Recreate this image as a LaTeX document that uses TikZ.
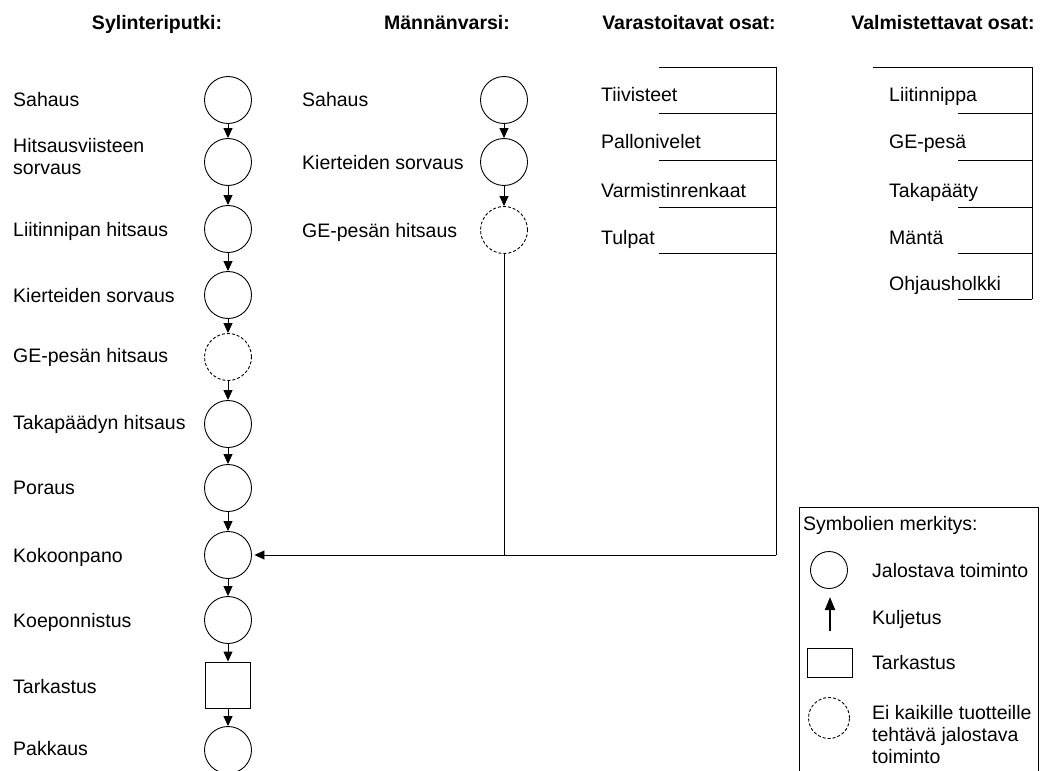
\documentclass[tikz,border=0pt]{standalone}
\usepackage{fontspec}
\setmainfont{Liberation Sans}
\usetikzlibrary{arrows.meta}
\begin{document}
\begin{tikzpicture}[x=1pt,y=-1pt,
  txt/.style={inner sep=0pt, font=\fontsize{19.5}{22}\selectfont},
  lbl/.style={txt, anchor=base west},
  hdr/.style={txt, anchor=base, font=\fontsize{19.5}{22}\selectfont\bfseries},
  op/.style={circle, draw, minimum size=47pt, inner sep=0pt, line width=0.9pt},
  opt/.style={op, dash pattern=on 3pt off 2pt},
  insp/.style={draw, minimum width=45pt, minimum height=46pt, inner sep=0pt, line width=0.9pt},
  flow/.style={-{Triangle[length=10pt,width=9pt]}, line width=0.9pt},
  boldflow/.style={-{Triangle[length=13pt,width=10pt]}, line width=2pt},
  rule/.style={line width=0.9pt}]
\useasboundingbox (0,0) rectangle (1040,770);
\clip (0,0) rectangle (1040,770);

% column headings
\node[hdr] (h1) at (157,30) {Sylinteriputki:};
\node[hdr] (h2) at (447,30) {Männänvarsi:};
\node[hdr] (h3) at (689,30) {Varastoitavat osat:};
\node[hdr] (h4) at (943,30) {Valmistettavat osat:};

% cylinder tube process chain
\node[op]   (s1)  at (228,100) {};
\node[op]   (s2)  at (228,162) {};
\node[op]   (s3)  at (228,229) {};
\node[op]   (s4)  at (228,295) {};
\node[opt]  (s5)  at (228,357) {};
\node[op]   (s6)  at (228,424) {};
\node[op]   (s7)  at (228,488) {};
\node[op]   (s8)  at (228,555) {};
\node[op]   (s9)  at (228,620) {};
\node[insp] (s10) at (228,685) {};
\node[op]   (s11) at (228,750) {};

\foreach \a/\b in {s1/s2,s2/s3,s3/s4,s4/s5,s5/s6,s6/s7,s7/s8,s8/s9,s9/s10,s10/s11}
  \draw[flow] (\a) -- (\b);

\node[lbl] (l1)  at (13,107) {Sahaus};
\node[lbl, align=left, anchor=north west] (l2) at (13,138) {Hitsausviisteen\\sorvaus};
\node[lbl] (l3)  at (13,236) {Liitinnipan hitsaus};
\node[lbl] (l4)  at (13,302) {Kierteiden sorvaus};
\node[lbl] (l5)  at (13,362) {GE-pesän hitsaus};
\node[lbl] (l6)  at (13,429) {Takapäädyn hitsaus};
\node[lbl] (l7)  at (13,494) {Poraus};
\node[lbl] (l8)  at (13,562) {Kokoonpano};
\node[lbl] (l9)  at (13,627) {Koeponnistus};
\node[lbl] (l10) at (13,693) {Tarkastus};
\node[lbl] (l11) at (13,755) {Pakkaus};

% piston rod process chain
\node[op]  (m1) at (504,100) {};
\node[op]  (m2) at (504,162) {};
\node[opt] (m3) at (504,230) {};
\draw[flow] (m1) -- (m2);
\draw[flow] (m2) -- (m3);

\node[lbl] (n1) at (302,107) {Sahaus};
\node[lbl] (n2) at (302,169) {Kierteiden sorvaus};
\node[lbl] (n3) at (302,237) {GE-pesän hitsaus};

% stocked parts list
\node[lbl] (v1) at (601,102) {Tiivisteet};
\node[lbl] (v2) at (601,149) {Pallonivelet};
\node[lbl] (v3) at (601,197) {Varmistinrenkaat};
\node[lbl] (v4) at (601,244) {Tulpat};
\draw[rule] (659,67) -- (776,67);
\foreach \y in {113,160,207,253}
  \draw[rule] (659,\y) -- (776,\y);

% manufactured parts list
\node[lbl] (w1) at (889,102) {Liitinnippa};
\node[lbl] (w2) at (889,149) {GE-pesä};
\node[lbl] (w3) at (889,197) {Takapääty};
\node[lbl] (w4) at (889,244) {Mäntä};
\node[lbl] (w5) at (889,290) {Ohjausholkki};
\draw[rule] (873,67) -- (1032,67) -- (1032,299);
\foreach \y in {113,160,207,253,299}
  \draw[rule] (958,\y) -- (1032,\y);

% feed lines into assembly
\coordinate (vtop) at (776,67);
\coordinate (vbot) at (776,555);
\coordinate (join) at (504,555);
\draw[rule] (vtop) -- (vbot);
\draw[rule] (m3.south) -- (join);
\draw[flow, shorten >=2.5pt] (vbot) -- (s8.east);

% legend
\draw[rule] (799,507) rectangle (1038,800);
\node[lbl] (k0) at (803,530) {Symbolien merkitys:};
\node[op, minimum size=37pt] (k1) at (829,570) {};
\node[lbl] (t1) at (872,577) {Jalostava toiminto};
\coordinate (ka) at (830,631);
\coordinate (kb) at (830,597);
\draw[boldflow] (ka) -- (kb);
\node[lbl] (t2) at (872,624) {Kuljetus};
\node[insp, minimum height=29pt] (k3) at (829.5,662.5) {};
\node[lbl] (t3) at (872,669) {Tarkastus};
\node[opt, minimum size=41pt] (k4) at (829,718) {};
\node[lbl, align=left, anchor=north west] (t4) at (872,705) {Ei kaikille tuotteille\\tehtävä jalostava\\toiminto};
\end{tikzpicture}
\end{document}
